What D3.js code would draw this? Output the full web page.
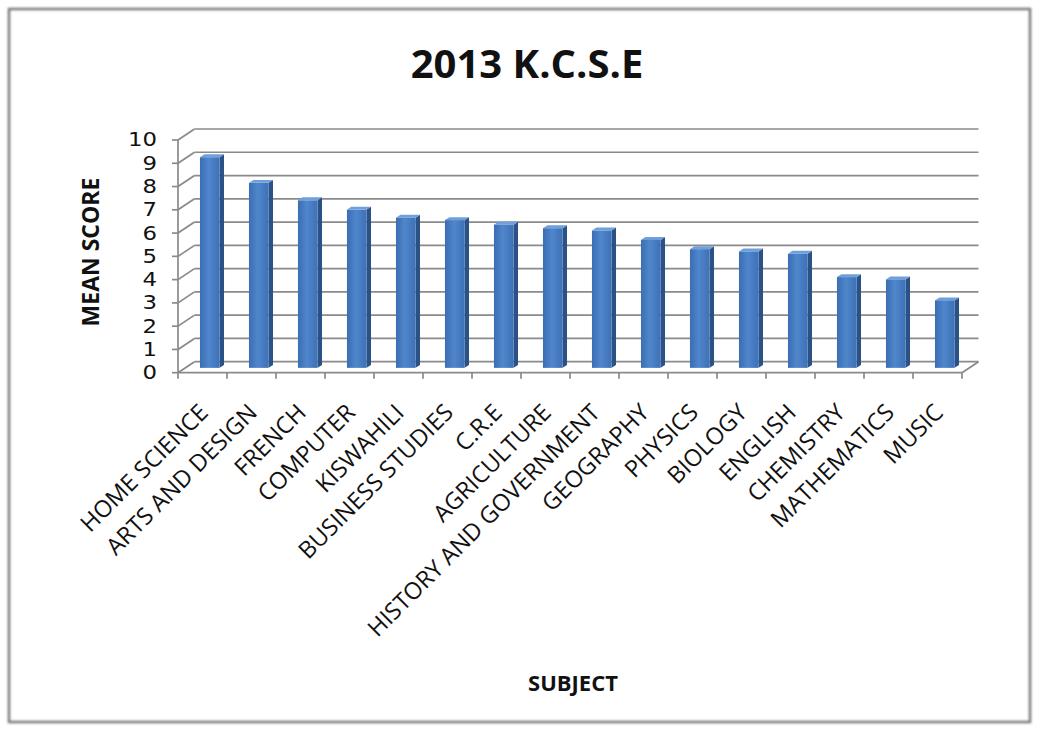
<!DOCTYPE html>
<html>
    <head>
        <meta charset="utf-8">
        <title>2013 K.C.S.E</title>
        <script src="https://d3js.org/d3.v7.min.js"></script>
        <style>
         html, body {
             margin: 0;
             background-color: white;
         }
         text {
             font-family: "Open Sans", "Noto Sans", sans-serif;
             fill: #111;
         }
         text.ylabel {
             font-family: "DejaVu Sans", sans-serif;
         }
         .grid line {
             stroke: #8a8a8a;
             stroke-width: 1.7;
         }
        </style>
    </head>
    <body>
        <div id="chart"></div>
        <script>
         const subjects = ["HOME SCIENCE", "ARTS AND DESIGN", "FRENCH", "COMPUTER", "KISWAHILI",
                           "BUSINESS STUDIES", "C.R.E", "AGRICULTURE", "HISTORY AND GOVERNMENT",
                           "GEOGRAPHY", "PHYSICS", "BIOLOGY", "ENGLISH", "CHEMISTRY", "MATHEMATICS", "MUSIC"]
         const meanScores = [9.05, 7.95, 7.2, 6.8, 6.45, 6.35, 6.15, 6.0, 5.9, 5.5, 5.1, 5.0, 4.9, 3.9, 3.8, 2.9]
         const scoreTicks = [0, 1, 2, 3, 4, 5, 6, 7, 8, 9, 10]

         const width = 1038, height = 731

         // front-left corner of the plot box and the depth offset to the back wall
         const x0 = 178, base = 372.7, plotW = 784, plotH = 232.7
         const DX = 16.5, DY = -11
         const barDepthAt = 0.44, barDepth = 0.27

         const svg = d3.select("#chart")
                       .append("svg")
                       .attr("width", width)
                       .attr("height", height)

         // blue gradient for the front face of the bars
         const defs = svg.append("defs")
         const grad = defs.append("linearGradient")
                          .attr("id", "barFront")
                          .attr("x1", "0").attr("x2", "1").attr("y1", "0").attr("y2", "0")
         grad.append("stop").attr("offset", "0%").attr("stop-color", "#3b6db2")
         grad.append("stop").attr("offset", "45%").attr("stop-color", "#4f86cc")
         grad.append("stop").attr("offset", "100%").attr("stop-color", "#3e71b6")
         const shadow = defs.append("filter").attr("id", "frameShadow")
         shadow.append("feGaussianBlur").attr("stdDeviation", 1.2)

         // outer frame
         svg.append("rect")
            .attr("x", 9).attr("y", 9)
            .attr("width", 1021).attr("height", 713)
            .attr("fill", "none")
            .attr("stroke", "#7a7a7a")
            .attr("stroke-width", 2.5)
            .attr("filter", "url(#frameShadow)")

         var x = d3.scaleBand()
                   .domain(subjects)
                   .range([x0, x0 + plotW])
                   .paddingInner(0.6)
                   .paddingOuter(0.3)
         var y = d3.scaleLinear()
                   .domain([0, 10])
                   .range([base, base - plotH])

         // back wall gridlines
         const grid = svg.append("g").attr("class", "grid")
         grid.selectAll(".back")
             .data(scoreTicks)
             .join("line")
             .attr("x1", x0 + DX).attr("x2", x0 + plotW + DX)
             .attr("y1", d => y(d) + DY).attr("y2", d => y(d) + DY)
         // side wall diagonals
         grid.selectAll(".side")
             .data(scoreTicks)
             .join("line")
             .attr("class", "side")
             .attr("x1", x0).attr("x2", x0 + DX)
             .attr("y1", d => y(d)).attr("y2", d => y(d) + DY)
         // floor front edge and right edge
         grid.append("line")
             .attr("x1", x0).attr("x2", x0 + plotW)
             .attr("y1", base).attr("y2", base)
         grid.append("line")
             .attr("x1", x0 + plotW).attr("x2", x0 + plotW + DX)
             .attr("y1", base).attr("y2", base + DY)
         // front value axis
         grid.append("line")
             .attr("x1", x0).attr("x2", x0)
             .attr("y1", y(0)).attr("y2", y(10))
         grid.selectAll(".ytick")
             .data(scoreTicks)
             .join("line")
             .attr("class", "ytick")
             .attr("x1", x0 - 6).attr("x2", x0)
             .attr("y1", d => y(d)).attr("y2", d => y(d))
         grid.selectAll(".xtick")
             .data(d3.range(subjects.length + 1))
             .join("line")
             .attr("class", "xtick")
             .attr("x1", i => x0 + i * x.step()).attr("x2", i => x0 + i * x.step())
             .attr("y1", base).attr("y2", base + 6)

         // 3d bars: side, top, front
         const bw = x.bandwidth()
         const sx = barDepth * DX, sy = barDepth * DY
         const bars = svg.append("g")
                         .selectAll("g")
                         .data(subjects.map((s, i) => ({subject: s, score: meanScores[i]})))
                         .join("g")
                         .attr("transform", `translate(${barDepthAt * DX},${barDepthAt * DY})`)
         bars.append("path")
             .attr("fill", "#2b5286")
             .attr("d", d => {
                 const xr = x(d.subject) + bw, yt = y(d.score)
                 return `M${xr},${base}L${xr + sx},${base + sy}L${xr + sx},${yt + sy}L${xr},${yt}Z`
             })
         bars.append("path")
             .attr("fill", "#6f9fdc")
             .attr("d", d => {
                 const xl = x(d.subject), yt = y(d.score)
                 return `M${xl},${yt}L${xl + sx},${yt + sy}L${xl + bw + sx},${yt + sy}L${xl + bw},${yt}Z`
             })
         bars.append("rect")
             .attr("x", d => x(d.subject))
             .attr("y", d => y(d.score))
             .attr("width", bw)
             .attr("height", d => base - y(d.score))
             .attr("fill", "url(#barFront)")

         // value labels (wide digits, as in the original)
         svg.selectAll(".ylabel")
            .data(scoreTicks)
            .join("text")
            .attr("class", "ylabel")
            .attr("transform", d => `translate(157,${y(d) + 1}) scale(1.2,1)`)
            .attr("text-anchor", "end")
            .attr("dominant-baseline", "middle")
            .attr("font-size", 19)
            .text(d => d)

         // category labels, rotated
         svg.selectAll(".xlabel")
            .data(subjects)
            .join("text")
            .attr("class", "xlabel")
            .attr("text-anchor", "end")
            .attr("font-size", 23.5)
            .attr("transform", d => `translate(${x(d) + bw / 2 + 7},${414}) rotate(-45)`)
            .text(d => d)

         // titles
         svg.append("text")
            .attr("x", 527).attr("y", 78)
            .attr("text-anchor", "middle")
            .attr("font-size", 40)
            .attr("font-weight", "bold")
            .text("2013 K.C.S.E")
         svg.append("text")
            .attr("transform", "translate(99,252) rotate(-90)")
            .attr("text-anchor", "middle")
            .attr("font-size", 23)
            .attr("font-weight", "bold")
            .text("MEAN SCORE")
         svg.append("text")
            .attr("x", 573).attr("y", 691)
            .attr("text-anchor", "middle")
            .attr("font-size", 22)
            .attr("font-weight", "bold")
            .text("SUBJECT")
        </script>
    </body>
</html>
